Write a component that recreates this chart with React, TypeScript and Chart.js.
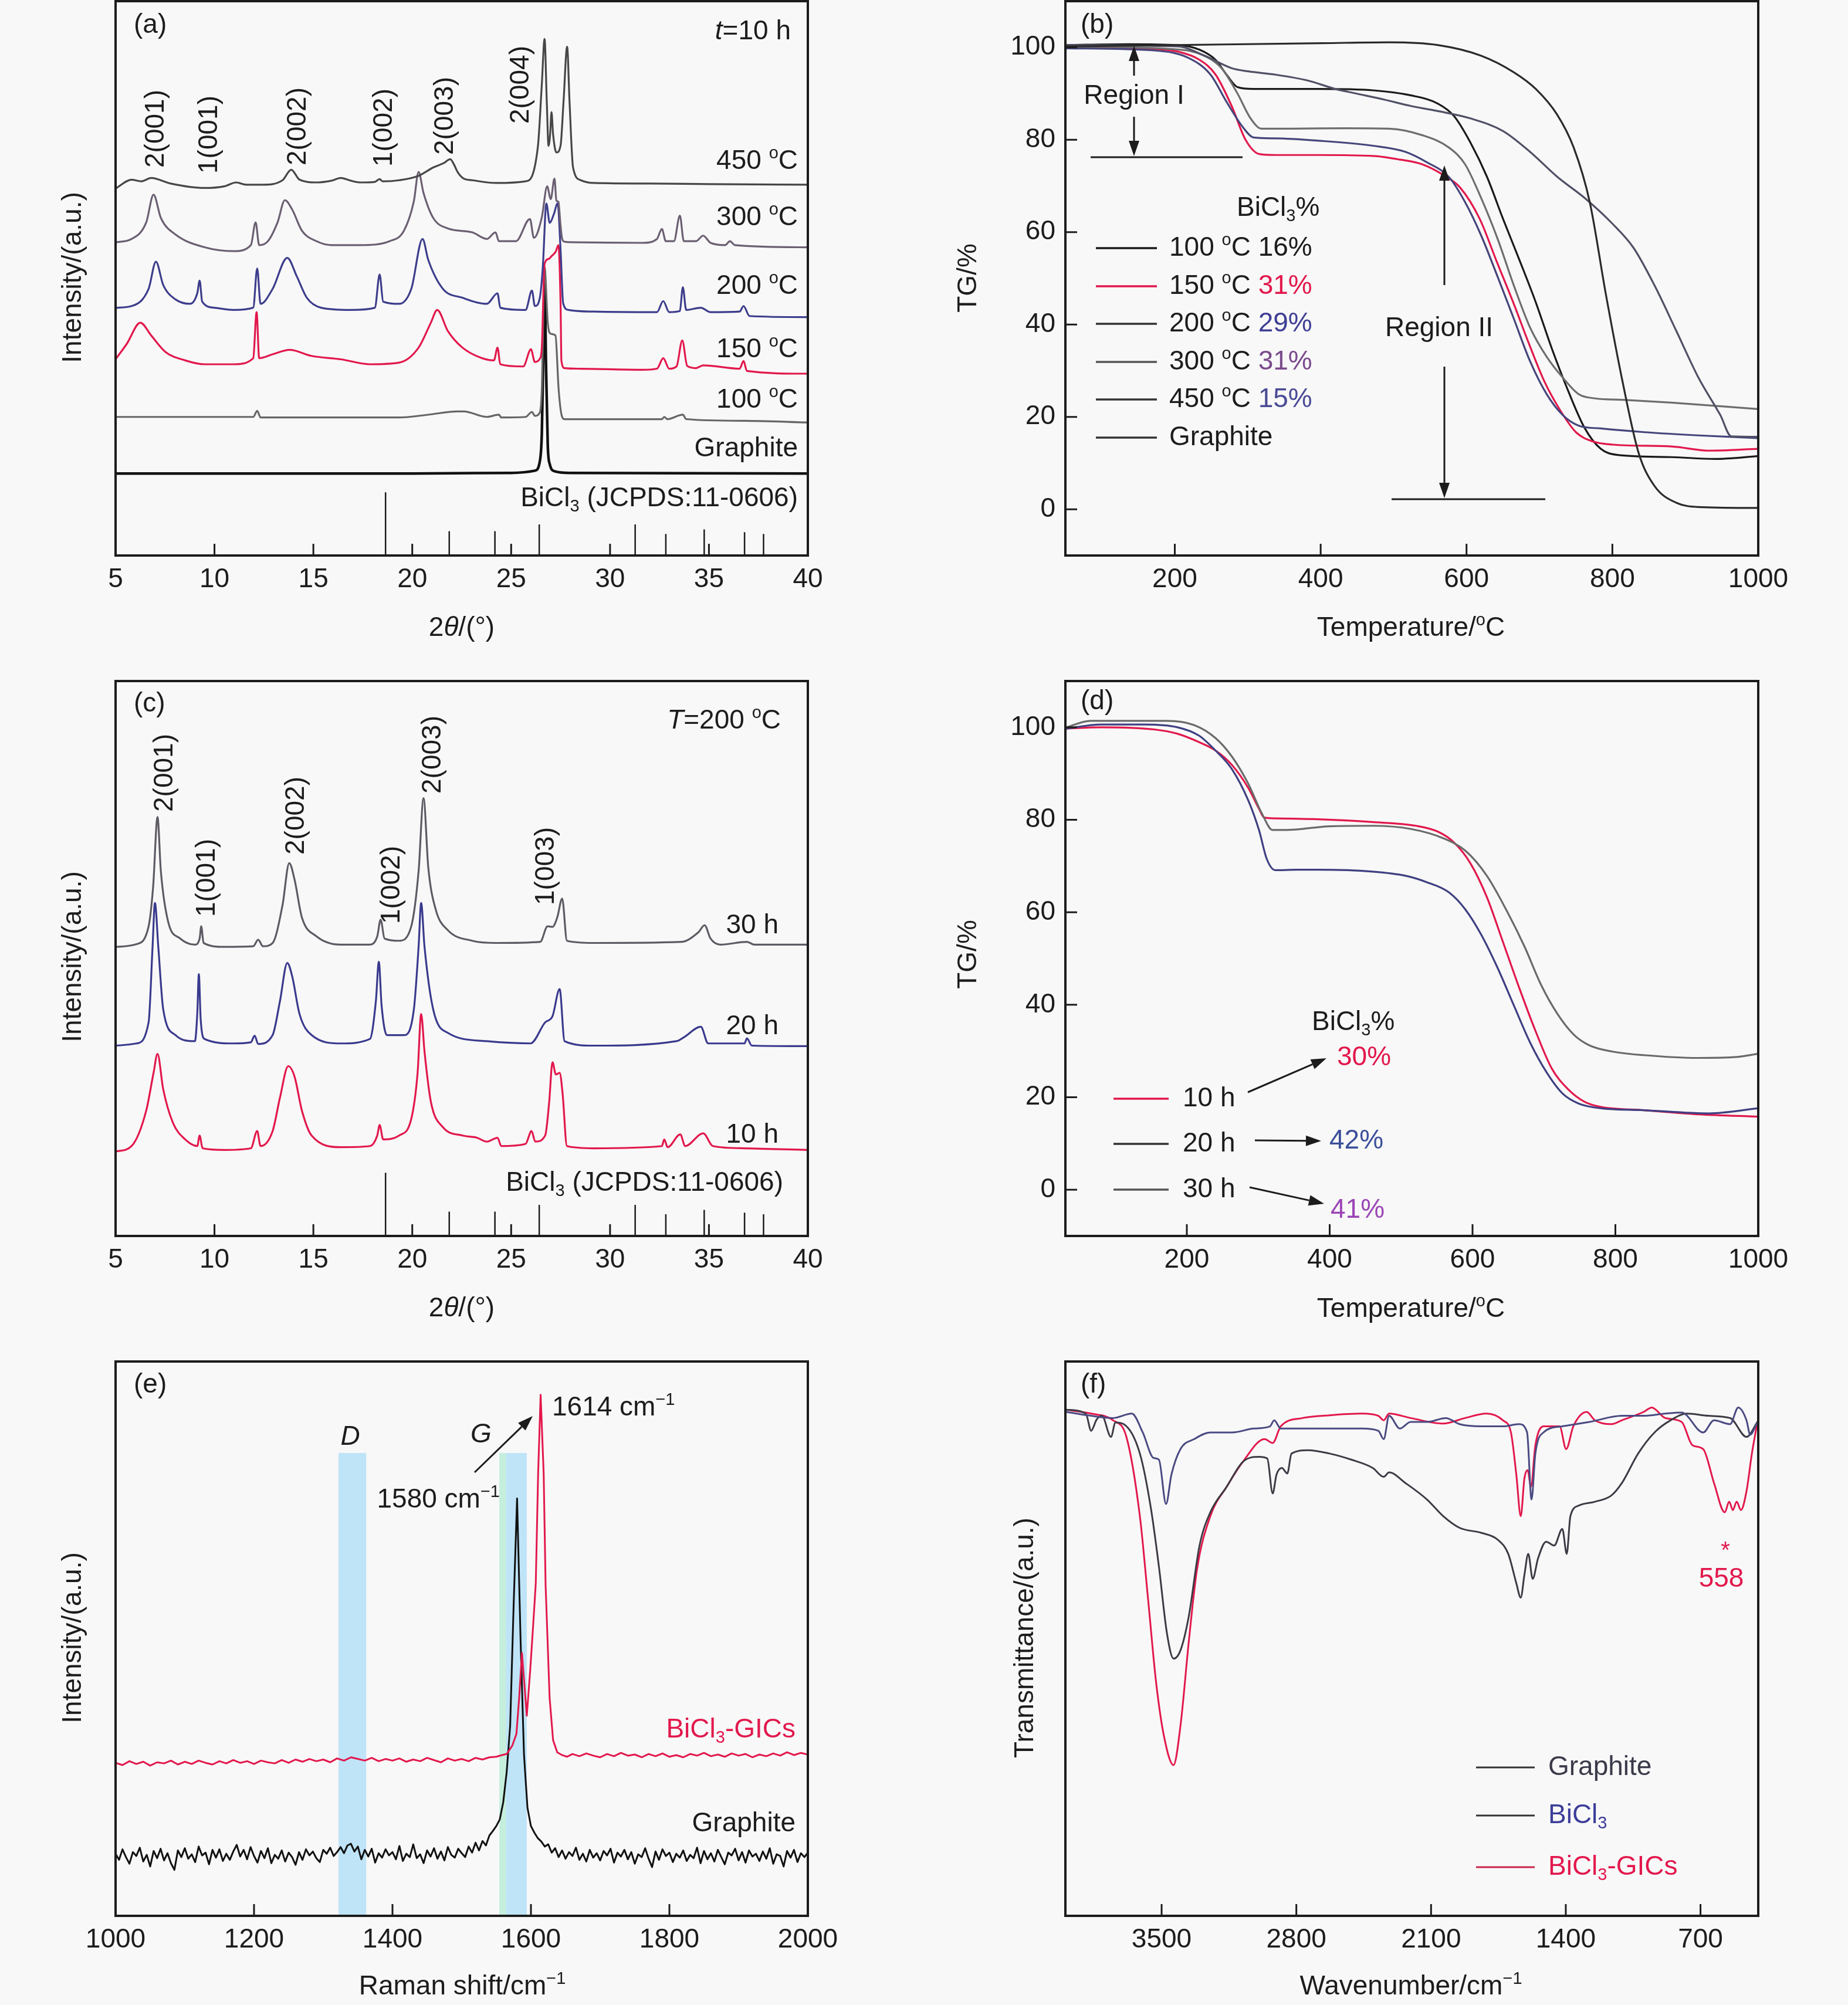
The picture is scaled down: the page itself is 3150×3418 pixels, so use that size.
import React, { useEffect, useRef } from 'react';
import { Chart, registerables } from 'chart.js';

Chart.register(...registerables);

const FONT = '"Liberation Sans", Arial, Helvetica, sans-serif';
const FS = 46;
const INK = '#1c1c1c';
const RED = '#e2184c';
const BG = '#f8f8f8';

// ---------------- (a) XRD, t = 10 h ----------------
const xrdTicks = [5, 10, 15, 20, 25, 30, 35, 40];
const xrdInner = [10, 15, 20, 25, 30, 35];
const xrd450 = [[5.00,66.2],[5.81,67.8],[6.30,67.5],[6.80,68.1],[7.78,67.1],[9.50,66.3],[10.50,66.6],[11.10,67.3],[11.60,66.9],[12.45,66.9],[13.44,67.7],[13.88,69.6],[14.30,67.8],[15.16,67.3],[15.90,67.6],[16.39,68.1],[16.90,67.6],[17.37,67.3],[18.10,67.4],[18.35,67.9],[18.50,67.5],[19.34,67.7],[20.32,68.5],[21.06,70.0],[21.60,70.8],[21.92,71.5],[22.10,70.6],[22.29,69.2],[22.60,68.0],[23.03,67.7],[24.26,67.2],[25.73,67.5],[26.35,73.7],[26.55,85.0],[26.69,93.2],[26.80,82.0],[26.89,73.9],[26.97,76.0],[27.04,80.0],[27.12,76.0],[27.29,72.7],[27.50,74.0],[27.65,82.0],[27.83,91.8],[27.95,82.0],[28.13,70.0],[28.52,67.7],[29.18,67.2],[32.00,67.1],[35.00,67.0],[40.00,66.9]];
const xrd300 = [[5.00,56.5],[5.81,57.1],[6.55,60.1],[6.92,65.1],[7.29,60.9],[8.03,57.9],[9.50,55.6],[10.98,54.9],[11.84,56.0],[12.08,60.1],[12.26,56.0],[12.70,56.7],[13.19,60.1],[13.56,64.1],[13.93,62.4],[14.42,58.6],[15.16,56.7],[15.90,56.0],[17.37,56.0],[18.85,56.7],[19.58,58.6],[20.08,63.9],[20.32,69.2],[20.57,65.4],[21.06,60.9],[21.80,59.0],[23.03,58.3],[23.77,57.1],[24.21,58.3],[24.38,56.7],[25.24,56.7],[25.95,60.7],[26.15,57.3],[26.55,61.0],[26.82,66.6],[27.00,64.3],[27.19,68.0],[27.29,64.0],[27.39,63.8],[27.49,59.8],[27.58,57.1],[27.70,56.6],[28.50,56.5],[31.64,56.4],[32.37,57.1],[32.62,58.9],[32.82,56.7],[33.23,56.7],[33.53,61.3],[33.73,56.7],[34.34,56.7],[34.71,57.7],[35.08,56.4],[35.82,56.0],[36.06,56.7],[36.31,56.0],[40.00,55.6]];
const xrd200 = [[5.00,44.7],[5.81,45.0],[6.67,48.1],[7.04,53.0],[7.41,48.8],[8.03,46.2],[8.76,45.4],[9.13,47.3],[9.25,49.6],[9.38,45.8],[9.99,44.7],[10.98,44.3],[11.96,44.7],[12.16,51.8],[12.33,45.4],[12.94,48.1],[13.68,53.7],[14.17,50.3],[14.67,46.5],[15.40,44.7],[16.88,44.3],[18.11,44.7],[18.35,50.7],[18.53,45.8],[19.34,45.4],[19.95,48.1],[20.52,57.1],[20.81,53.3],[21.55,48.1],[22.54,46.5],[23.77,45.4],[24.31,47.3],[24.45,44.7],[25.73,44.3],[26.05,47.8],[26.20,45.0],[26.45,46.5],[26.60,52.0],[26.78,63.5],[26.95,60.0],[27.15,61.5],[27.35,63.5],[27.50,55.0],[27.63,45.5],[27.90,44.3],[29.18,44.0],[32.37,43.9],[32.69,45.9],[32.99,43.9],[33.53,44.1],[33.68,48.4],[33.85,44.3],[34.59,44.7],[35.08,43.9],[36.55,44.0],[36.75,45.0],[37.05,43.2],[40.00,43.0]];
const xrd150 = [[5.00,35.4],[5.57,38.2],[6.25,42.0],[6.80,39.7],[7.53,36.7],[8.52,35.2],[9.50,34.5],[10.98,34.5],[11.96,35.6],[12.13,43.9],[12.26,35.6],[12.94,36.3],[13.80,37.1],[14.91,36.0],[16.39,35.4],[17.86,34.5],[19.34,34.8],[20.32,37.5],[20.94,42.0],[21.26,44.3],[21.80,40.5],[22.54,37.5],[23.52,35.6],[24.13,35.2],[24.31,37.5],[24.45,34.5],[25.61,34.1],[26.00,37.2],[26.20,34.9],[26.45,35.5],[26.55,37.5],[26.69,52.6],[26.90,53.5],[27.04,54.0],[27.25,54.8],[27.39,56.0],[27.50,45.0],[27.54,35.2],[27.70,33.8],[28.50,33.7],[31.64,33.5],[32.37,33.7],[32.69,35.6],[32.99,33.7],[33.36,34.1],[33.65,38.8],[33.90,34.2],[34.34,33.8],[34.71,34.3],[36.55,33.7],[36.75,35.1],[36.92,33.3],[40.00,32.8]];
const xrd100 = [[5.00,25.0],[11.96,25.0],[12.16,26.1],[12.33,24.9],[19.34,24.9],[20.81,25.4],[22.29,26.0],[22.60,26.0],[23.77,25.0],[24.38,25.4],[24.50,24.9],[25.73,25.0],[26.05,25.9],[26.20,25.2],[26.45,25.8],[26.55,30.0],[26.69,52.0],[26.85,42.0],[27.00,40.0],[27.24,39.7],[27.40,30.0],[27.54,25.5],[27.70,24.6],[32.62,24.6],[32.74,25.0],[32.90,24.6],[33.68,25.4],[33.85,24.6],[36.80,24.3],[40.00,24.0]];
const xrdGraphite = [[5.00,14.8],[20.00,14.8],[25.00,14.9],[26.20,15.3],[26.45,17.0],[26.55,22.0],[26.62,35.0],[26.69,50.0],[26.76,35.0],[26.85,20.0],[26.95,16.5],[27.20,15.2],[28.00,14.9],[40.00,14.8]];
const stickPos = [18.65, 21.87, 24.18, 26.42, 31.27, 32.82, 34.76, 36.80, 37.76];
const stickHeight = [11.4, 4.4, 4.4, 5.6, 5.6, 3.9, 4.7, 4.2, 3.9];

// ---------------- (c) XRD, T = 200 C ----------------
const xrd30h = [[5.00,52.1],[6.06,52.6],[6.67,55.8],[6.90,63.0],[7.12,75.5],[7.29,65.7],[7.66,56.6],[8.27,53.6],[9.01,52.5],[9.25,53.6],[9.33,55.8],[9.45,52.8],[10.48,52.1],[11.96,52.2],[12.21,53.4],[12.45,52.2],[12.94,52.8],[13.44,59.6],[13.78,67.2],[14.05,64.2],[14.42,57.4],[15.16,54.0],[16.39,52.5],[17.86,52.5],[18.23,54.0],[18.40,57.0],[18.60,53.6],[19.34,53.2],[19.95,55.8],[20.32,65.7],[20.57,78.9],[20.81,66.4],[21.18,58.9],[21.80,55.1],[23.03,53.2],[24.26,52.8],[26.47,53.0],[26.84,55.8],[27.09,55.7],[27.33,57.4],[27.58,60.8],[27.82,53.2],[29.18,52.8],[33.60,53.0],[34.46,54.7],[34.78,56.0],[35.08,53.6],[35.57,52.5],[36.92,53.0],[37.30,52.5],[40.00,52.5]];
const xrd20h = [[5.00,34.3],[6.06,34.7],[6.67,38.5],[6.87,52.1],[6.99,60.0],[7.16,52.1],[7.41,40.8],[8.03,36.2],[9.01,35.1],[9.13,40.0],[9.21,47.2],[9.30,39.2],[9.50,35.5],[10.98,34.7],[11.84,34.9],[12.03,36.1],[12.21,34.6],[12.94,36.2],[13.31,42.3],[13.68,49.2],[13.93,46.8],[14.30,40.0],[14.91,36.2],[16.39,34.7],[17.86,35.5],[18.16,42.3],[18.31,49.4],[18.45,41.5],[18.72,36.2],[19.58,36.2],[20.08,40.8],[20.32,52.1],[20.45,60.0],[20.62,52.1],[21.06,40.8],[21.80,36.6],[23.77,35.1],[25.98,34.7],[26.72,38.5],[27.09,39.6],[27.45,44.5],[27.70,35.1],[29.18,34.3],[33.36,35.1],[33.73,35.8],[34.59,37.7],[34.96,34.7],[36.80,34.7],[36.92,35.6],[37.17,34.3],[40.00,34.2]];
const xrd10h = [[5.00,15.2],[5.81,16.2],[6.55,22.6],[6.92,29.4],[7.12,32.8],[7.41,26.4],[7.90,20.4],[8.52,17.4],[9.13,16.2],[9.25,18.1],[9.40,15.8],[10.48,15.5],[11.84,15.8],[12.16,18.9],[12.33,16.2],[12.94,18.9],[13.31,24.9],[13.73,30.6],[14.05,28.7],[14.42,22.6],[14.91,18.1],[16.39,16.0],[17.86,16.2],[18.23,18.1],[18.35,20.0],[18.53,17.4],[19.34,18.1],[19.95,21.1],[20.27,29.4],[20.45,40.0],[20.62,33.2],[20.94,24.2],[21.55,19.6],[22.54,18.1],[23.27,17.7],[23.77,17.0],[24.31,17.7],[24.50,16.2],[25.73,16.6],[26.03,18.9],[26.22,17.0],[26.72,18.1],[26.92,24.0],[27.09,31.3],[27.26,29.1],[27.45,29.4],[27.60,25.7],[27.82,16.2],[29.18,15.8],[32.62,16.2],[32.74,17.4],[32.91,16.0],[33.55,18.3],[33.80,16.2],[34.71,18.5],[35.20,16.2],[36.80,15.8],[40.00,15.5]];

// ---------------- (b) TG vs temperature ----------------
const tgTicks = [200, 400, 600, 800, 1000];
const tgYTicks = [0, 20, 40, 60, 80, 100];
const tgGraphite = [[50,100.2],[200,100.5],[401,100.9],[494,101.1],[561,100.5],[620,98.2],[665,94.6],[695,91.0],[724,85.5],[747,78.3],[769,66.5],[791,46.6],[814,27.6],[836,12.2],[858,5.0],[888,1.4],[918,0.5],[1000,0.3]];
const tg100 = [[50,100.5],[137,100.7],[204,100.5],[234,99.5],[256,97.3],[271,94.1],[286,91.4],[308,91.0],[397,91.0],[472,90.7],[524,89.6],[561,87.8],[583,85.1],[606,79.2],[628,72.0],[650,62.9],[673,53.8],[695,44.8],[717,34.8],[739,25.8],[762,17.6],[784,13.1],[806,11.8],[881,11.3],[940,10.9],[1000,11.5]];
const tg150 = [[50,100.0],[159,99.7],[204,99.1],[234,97.3],[256,94.1],[278,87.3],[297,80.0],[316,76.9],[338,76.7],[397,76.7],[472,76.5],[509,75.7],[539,74.7],[568,72.4],[591,69.7],[618,62.9],[641,53.8],[664,44.8],[686,35.7],[707,27.6],[729,21.3],[750,16.7],[771,14.8],[800,14.0],[881,13.6],[933,12.7],[1000,13.1]];
const tg200 = [[50,99.8],[174,99.3],[219,97.7],[249,94.1],[271,88.2],[293,82.8],[308,80.5],[338,80.3],[397,79.8],[472,78.7],[516,77.4],[546,75.1],[576,71.9],[598,66.5],[620,59.3],[643,50.2],[665,41.2],[687,32.1],[710,24.9],[732,20.4],[754,18.1],[784,17.5],[844,16.7],[918,16.0],[1000,15.4]];
const tg300 = [[50,100.2],[189,99.7],[234,98.6],[264,95.5],[286,90.0],[304,84.6],[319,82.4],[360,82.4],[435,82.5],[494,82.4],[539,81.0],[576,78.3],[598,74.7],[620,67.4],[643,58.4],[665,48.4],[687,39.4],[710,33.0],[732,28.5],[754,24.9],[777,24.0],[814,23.7],[881,23.1],[1000,21.7]];
const tg450 = [[50,100.5],[204,100.2],[241,98.2],[278,95.5],[301,94.8],[338,94.1],[383,92.8],[420,91.0],[449,90.0],[487,88.7],[524,87.3],[561,86.2],[606,84.6],[650,81.9],[687,77.4],[725,71.9],[762,67.4],[799,62.0],[829,56.6],[858,48.4],[888,38.5],[918,28.5],[948,20.4],[963,15.8],[1000,15.7]];

// ---------------- (d) TG vs time ----------------
const tg10h = [[30,99.7],[80,100.0],[156,99.5],[187,98.6],[217,96.8],[240,95.0],[263,91.9],[286,86.9],[301,82.4],[308,80.5],[324,80.3],[384,80.1],[460,79.5],[521,78.7],[552,77.4],[574,75.1],[597,70.6],[620,63.3],[643,53.4],[666,43.4],[688,34.4],[711,26.2],[734,21.7],[757,19.0],[780,17.9],[840,17.2],[916,16.3],[1000,15.8]];
const tg20h = [[30,99.7],[80,100.6],[141,100.6],[187,100.0],[217,98.2],[240,95.0],[263,91.0],[286,84.2],[301,77.8],[312,71.5],[324,69.1],[354,69.2],[384,69.2],[460,68.8],[506,67.9],[536,66.5],[567,64.3],[590,60.6],[612,55.2],[635,48.0],[658,39.8],[681,31.7],[704,25.3],[726,20.8],[749,18.6],[780,17.6],[840,17.2],[931,16.5],[1000,17.6]];
const tg30h = [[30,99.9],[65,101.4],[172,101.4],[210,100.5],[240,97.7],[263,93.7],[286,87.8],[305,81.4],[320,77.8],[339,77.8],[400,78.6],[460,78.7],[514,78.0],[559,76.0],[590,73.3],[620,67.9],[650,59.7],[673,52.5],[696,44.3],[719,38.0],[742,33.5],[764,31.2],[795,29.9],[840,29.1],[916,28.5],[970,28.7],[1000,29.4]];

// ---------------- (e) Raman ----------------
const ramanTicks = [1000, 1200, 1400, 1600, 1800, 2000];
const ramanInner = [1200, 1400, 1600, 1800];
const ramanStart = 1000;
const ramanStep = 5;
const ramanGraphite = [
  11.2,10.1,12.0,10.6,9.4,11.5,10.8,12.3,9.8,11.0,
  8.9,11.7,10.4,12.1,10.0,11.3,9.5,8.3,11.8,10.6,
  12.2,10.3,11.1,9.7,12.5,10.9,11.4,9.3,11.9,10.5,
  12.0,9.9,11.2,10.1,11.6,12.8,10.7,11.9,10.2,12.4,
  10.8,9.6,11.7,10.4,12.2,9.5,11.0,10.3,11.8,9.8,
  11.4,10.6,9.2,11.5,10.1,12.0,10.9,11.6,10.4,9.7,
  11.9,11.2,12.3,10.8,11.5,12.4,11.3,12.7,13.0,11.6,
  12.5,10.2,11.9,10.7,12.1,9.6,11.3,10.5,12.0,10.9,
  11.5,10.2,12.6,9.9,11.2,10.6,12.9,10.4,11.1,9.5,
  11.8,10.7,12.2,10.3,11.6,10.0,12.4,11.0,10.5,12.1,
  11.3,10.6,12.5,11.4,13.2,11.8,13.5,12.7,14.5,15.3,
  16.2,17.4,20.5,26.0,34.3,56.0,75.3,50.0,29.0,19.5,
  16.2,15.0,14.0,13.4,12.5,12.9,11.4,12.2,10.6,11.8,
  10.3,11.5,10.8,12.3,10.1,11.2,9.8,11.9,10.5,11.3,
  10.0,11.7,10.9,12.1,9.6,11.4,10.7,11.9,10.2,11.5,
  9.4,11.1,10.6,12.2,10.3,8.8,11.6,10.1,12.0,10.8,
  11.4,9.7,11.2,10.5,11.8,9.9,11.0,10.4,12.3,9.5,
  11.7,10.2,11.3,9.8,11.9,10.6,9.3,11.4,10.9,12.1,
  10.0,11.5,9.6,11.8,10.7,11.2,9.9,11.6,10.3,12.2,
  9.4,11.1,10.8,8.9,11.7,10.5,11.9,9.7,11.3,10.6,
  11.4,
];
const ramanGICs = [[1000,27.6],[1010,27.2],[1020,27.9],[1030,27.4],[1040,27.8],[1050,27.1],[1060,27.7],[1070,27.5],[1080,28.0],[1090,27.3],[1100,27.8],[1110,27.4],[1120,28.0],[1130,27.6],[1140,27.3],[1150,27.9],[1160,27.5],[1170,28.1],[1180,27.6],[1190,27.9],[1200,27.4],[1210,28.0],[1220,27.7],[1230,27.5],[1240,28.1],[1250,27.6],[1260,28.2],[1270,27.8],[1280,28.3],[1290,27.9],[1300,28.2],[1310,27.7],[1320,28.4],[1330,28.0],[1340,28.6],[1350,28.3],[1360,28.0],[1370,28.5],[1380,27.9],[1390,28.3],[1400,28.0],[1410,28.4],[1420,27.8],[1430,28.2],[1440,27.9],[1450,28.5],[1460,28.1],[1470,27.7],[1480,28.4],[1490,28.0],[1500,28.3],[1510,27.9],[1520,28.5],[1530,28.2],[1540,28.6],[1550,28.7],[1558,29.0],[1565,29.2],[1573,30.7],[1579,32.8],[1583,39.3],[1587,47.4],[1591,41.0],[1594,36.1],[1599,44.4],[1603,52.0],[1607,60.0],[1610.4,79.8],[1614,94.0],[1618.4,79.8],[1621.2,59.6],[1627,39.3],[1632,31.7],[1638,29.5],[1645,29.0],[1652,28.7],[1660,29.2],[1670,28.8],[1680,29.3],[1690,28.9],[1700,28.6],[1710,29.2],[1720,28.8],[1730,29.4],[1740,28.9],[1750,29.1],[1760,28.6],[1770,29.2],[1780,28.8],[1790,29.3],[1800,28.7],[1810,29.0],[1820,28.6],[1830,29.2],[1840,28.9],[1850,29.4],[1860,28.8],[1870,29.1],[1880,28.7],[1890,29.3],[1900,28.9],[1910,29.2],[1920,28.6],[1930,29.1],[1940,28.8],[1950,29.3],[1960,28.9],[1970,29.5],[1980,29.0],[1990,29.4],[2000,29.1]];
const dBand = [1322, 1362];
const gBand = [1554.5, 1594];
const gBandGreen = [1554.5, 1564];
const bandTop = 83.5;

// ---------------- (f) FTIR ----------------
const ftirTicks = [3500, 2800, 2100, 1400, 700];
const ftirGraphite = [[3995,91.3],[3894,90.6],[3866,87.5],[3838,89.5],[3810,90.2],[3763,86.4],[3740,89.0],[3697,88.7],[3613,83.4],[3556,73.6],[3514,63.0],[3472,50.9],[3438,46.4],[3402,47.9],[3359,54.0],[3303,66.8],[3247,72.8],[3162,77.4],[3078,81.9],[2993,82.8],[2951,82.5],[2923,76.2],[2903,79.6],[2875,80.8],[2847,79.8],[2825,83.4],[2740,84.0],[2628,83.4],[2515,82.3],[2403,80.8],[2346,79.2],[2318,80.0],[2234,78.1],[2121,75.1],[2037,72.1],[1952,70.0],[1840,69.1],[1755,67.9],[1699,65.3],[1657,60.0],[1634,57.4],[1615,61.5],[1595,65.3],[1572,60.8],[1544,64.5],[1502,67.5],[1460,66.8],[1418,69.8],[1395,65.3],[1376,72.1],[1333,74.0],[1249,74.7],[1164,75.8],[1108,78.1],[1024,83.4],[939,87.2],[855,89.4],[770,90.6],[658,90.2],[546,89.8],[461,86.4],[404,89.1]];
const ftirBiCl3 = [[3995,90.9],[3866,90.2],[3753,89.8],[3655,90.6],[3598,87.2],[3542,82.6],[3514,82.3],[3477,74.3],[3449,79.6],[3402,84.2],[3331,86.0],[3247,87.2],[3134,87.2],[3022,87.9],[2937,88.3],[2915,89.4],[2881,87.9],[2684,87.9],[2459,87.9],[2374,87.5],[2346,86.0],[2318,90.2],[2262,87.9],[2206,89.1],[2121,89.1],[2023,89.8],[1952,88.7],[1840,88.3],[1727,88.3],[1643,88.7],[1601,87.2],[1578,75.1],[1558,83.4],[1516,87.2],[1418,88.3],[1277,89.1],[1108,90.2],[996,90.2],[883,90.6],[798,90.8],[686,87.2],[630,89.4],[546,88.7],[504,91.7],[461,89.4],[442,86.8],[404,89.1]];
const ftirGICs = [[3995,91.3],[3866,90.6],[3753,89.4],[3683,86.4],[3613,72.1],[3570,57.0],[3528,41.9],[3486,32.1],[3438,27.2],[3402,34.3],[3359,49.4],[3317,62.3],[3247,72.1],[3162,77.4],[3078,81.9],[2965,86.0],[2923,85.3],[2881,88.3],[2768,89.8],[2628,90.3],[2459,90.6],[2374,90.2],[2346,89.4],[2318,90.6],[2206,89.8],[2037,88.8],[1924,89.8],[1812,90.6],[1727,89.4],[1685,87.2],[1657,79.6],[1634,72.1],[1615,78.9],[1598,80.4],[1581,77.4],[1558,84.9],[1516,88.3],[1432,88.3],[1398,84.2],[1361,88.3],[1291,90.9],[1249,89.4],[1164,88.7],[1108,89.4],[996,90.9],[953,91.7],[883,89.8],[798,89.1],[742,84.9],[686,84.2],[630,78.1],[574,72.8],[551,74.7],[532,73.2],[512,74.7],[490,73.2],[461,76.6],[433,83.4],[404,89.1]];

// ---------------- layout ----------------
const ML = 260, MT = 60, MR = 120, MB = 200, YW = 200, XH = 100;

type Align = 'left' | 'center' | 'right';
type Part = { t: string; s?: 'sub' | 'sup'; i?: boolean; c?: string };
type Rich = string | Part[];

const toParts = (r: Rich): Part[] => (typeof r === 'string' ? [{ t: r }] : r);
const partFont = (p: Part, size: number) =>
  `${p.i ? 'italic ' : ''}${p.s ? Math.round(size * 0.64) : size}px ${FONT}`;

function drawRich(ctx: CanvasRenderingContext2D, r: Rich, x: number, y: number, align: Align, color: string, size: number) {
  const parts = toParts(r);
  let w = 0;
  const ws = parts.map((p) => {
    ctx.font = partFont(p, size);
    const m = ctx.measureText(p.t).width;
    w += m;
    return m;
  });
  let cx = align === 'left' ? x : align === 'right' ? x - w : x - w / 2;
  ctx.textAlign = 'left';
  ctx.textBaseline = 'middle';
  parts.forEach((p, k) => {
    ctx.font = partFont(p, size);
    ctx.fillStyle = p.c || color;
    const dy = p.s === 'sub' ? size * 0.3 : p.s === 'sup' ? -size * 0.28 : 0;
    ctx.fillText(p.t, cx, y + dy);
    cx += ws[k];
  });
}

function makeKit(ctx: CanvasRenderingContext2D, ox: number, oy: number) {
  return {
    text(x: number, y: number, r: Rich, al: Align = 'left', c: string = INK, size: number = FS) {
      drawRich(ctx, r, x - ox, y - oy, al, c, size);
    },
    rtext(x: number, y: number, r: Rich, al: Align = 'left', c: string = INK, size: number = FS) {
      ctx.save();
      ctx.translate(x - ox, y - oy);
      ctx.rotate(-Math.PI / 2);
      drawRich(ctx, r, 0, 0, al, c, size);
      ctx.restore();
    },
    line(x1: number, y1: number, x2: number, y2: number, c: string = INK, lw: number = 3) {
      ctx.strokeStyle = c;
      ctx.lineWidth = lw;
      ctx.beginPath();
      ctx.moveTo(x1 - ox, y1 - oy);
      ctx.lineTo(x2 - ox, y2 - oy);
      ctx.stroke();
    },
    arrow(x1: number, y1: number, x2: number, y2: number, c: string = INK, lw: number = 3, hl: number = 26, hw: number = 9) {
      const a = Math.atan2(y2 - y1, x2 - x1);
      const X2 = x2 - ox, Y2 = y2 - oy;
      const bx = X2 - hl * Math.cos(a), by = Y2 - hl * Math.sin(a);
      ctx.strokeStyle = c;
      ctx.fillStyle = c;
      ctx.lineWidth = lw;
      ctx.beginPath();
      ctx.moveTo(x1 - ox, y1 - oy);
      ctx.lineTo(bx, by);
      ctx.stroke();
      ctx.beginPath();
      ctx.moveTo(X2, Y2);
      ctx.lineTo(bx - hw * Math.sin(a), by + hw * Math.cos(a));
      ctx.lineTo(bx + hw * Math.sin(a), by - hw * Math.cos(a));
      ctx.closePath();
      ctx.fill();
    },
  };
}
type Kit = ReturnType<typeof makeKit>;

const series = (pts: number[][], color: string, width = 3.2, smooth = true) => ({
  data: pts.map(([x, y]) => ({ x, y })),
  borderColor: color,
  backgroundColor: color,
  borderWidth: width,
  pointRadius: 0,
  fill: false,
  tension: 0,
  cubicInterpolationMode: smooth ? 'monotone' : 'default',
  borderJoinStyle: 'round',
  borderCapStyle: 'round',
});

const stickSeries = () => {
  const pts: { x: number; y: number | null }[] = [];
  stickPos.forEach((p, i) => {
    pts.push({ x: p, y: 0 }, { x: p, y: stickHeight[i] }, { x: p, y: null });
  });
  return { data: pts, borderColor: INK, borderWidth: 2.5, pointRadius: 0, fill: false, spanGaps: false };
};

const ramanGraphiteSeries = () =>
  ramanGraphite.map((v, i) => [ramanStart + i * ramanStep, v]);

const degC = (n: string): Part[] => [{ t: n + ' ' }, { t: 'o', s: 'sup' }, { t: 'C' }];
const bicl = (rest: string, c?: string): Part[] => [
  { t: 'BiCl', c },
  { t: '3', s: 'sub', c },
  { t: rest, c },
];

interface Spec {
  key: string;
  L: number; T: number; R: number; B: number;
  datasets: () => any[];
  xMin: number; xMax: number; xTicks: number[]; xInner: number[]; reverse?: boolean;
  yMin: number; yMax: number; yTicks?: number[];
  under?: (k: Kit, chart: any, ctx: CanvasRenderingContext2D) => void;
  over: (k: Kit, chart: any) => void;
}

function buildConfig(s: Spec, ox: number, oy: number) {
  const tickFont = { family: FONT, size: FS };
  const x: any = {
    type: 'linear',
    min: s.xMin,
    max: s.xMax,
    reverse: !!s.reverse,
    grid: { display: false, drawTicks: false },
    border: { display: false },
    ticks: { font: tickFont, color: INK, padding: 14, maxRotation: 0, autoSkip: false, callback: (v: any) => String(v) },
    afterBuildTicks: (sc: any) => {
      sc.ticks = s.xTicks.map((v) => ({ value: v }));
    },
    afterFit: (sc: any) => {
      sc.height = XH;
      sc.paddingLeft = 0;
      sc.paddingRight = 0;
    },
  };
  const y: any = s.yTicks
    ? {
        type: 'linear',
        min: s.yMin,
        max: s.yMax,
        grid: { display: false, drawTicks: false },
        border: { display: false },
        ticks: { font: tickFont, color: INK, padding: 17, autoSkip: false, callback: (v: any) => String(v) },
        afterBuildTicks: (sc: any) => {
          sc.ticks = (s.yTicks as number[]).map((v) => ({ value: v }));
        },
        afterFit: (sc: any) => {
          sc.width = YW;
          sc.paddingTop = 0;
          sc.paddingBottom = 0;
        },
      }
    : { type: 'linear', min: s.yMin, max: s.yMax, display: false };

  return {
    type: 'line',
    data: { datasets: s.datasets() },
    options: {
      responsive: false,
      animation: false,
      devicePixelRatio: 1,
      events: [],
      layout: { padding: { left: s.yTicks ? ML - YW : ML, top: MT, right: MR, bottom: MB - XH } },
      plugins: { legend: { display: false }, tooltip: { enabled: false }, title: { display: false } },
      elements: { point: { radius: 0 } },
      scales: { x, y },
    },
    plugins: [
      {
        id: 'decor-' + s.key,
        beforeDatasetsDraw(chart: any) {
          if (!s.under) return;
          const ctx = chart.ctx;
          ctx.save();
          s.under(makeKit(ctx, ox, oy), chart, ctx);
          ctx.restore();
        },
        afterDatasetsDraw(chart: any) {
          const ctx: CanvasRenderingContext2D = chart.ctx;
          const a = chart.chartArea;
          ctx.save();
          ctx.strokeStyle = INK;
          ctx.lineWidth = 3;
          ctx.lineCap = 'butt';
          s.xInner.forEach((v) => {
            const px = chart.scales.x.getPixelForValue(v);
            ctx.beginPath();
            ctx.moveTo(px, a.bottom);
            ctx.lineTo(px, a.bottom - 20);
            ctx.stroke();
          });
          (s.yTicks || []).forEach((v) => {
            const py = chart.scales.y.getPixelForValue(v);
            ctx.beginPath();
            ctx.moveTo(a.left, py);
            ctx.lineTo(a.left + 20, py);
            ctx.stroke();
          });
          ctx.lineWidth = 4;
          ctx.strokeRect(a.left, a.top, a.right - a.left, a.bottom - a.top);
          s.over(makeKit(ctx, ox, oy), chart);
          ctx.restore();
        },
      },
    ],
  };
}

const SPECS: Spec[] = [
  {
    key: 'a', L: 197, T: 2, R: 1377, B: 947,
    xMin: 5, xMax: 40, xTicks: xrdTicks, xInner: xrdInner, yMin: 0, yMax: 100,
    datasets: () => [
      series(xrd450, '#474747'),
      series(xrd300, '#6b5f72'),
      series(xrd200, '#3d3d8c'),
      series(xrd150, RED),
      series(xrd100, '#666666'),
      series(xrdGraphite, '#111111', 4.5),
      stickSeries(),
    ],
    over: (k) => {
      k.text(228, 43, '(a)');
      k.text(1348, 54, [{ t: 't', i: true }, { t: '=10 h' }], 'right');
      const rot: [number, number, string][] = [
        [266, 286, '2(001)'], [357, 296, '1(001)'], [508, 282, '2(002)'],
        [655, 284, '1(002)'], [759, 264, '2(003)'], [888, 211, '2(004)'],
      ];
      rot.forEach(([x, y, s]) => k.rtext(x, y, s, 'left'));
      k.text(1360, 275, degC('450'), 'right');
      k.text(1360, 371, degC('300'), 'right');
      k.text(1360, 488, degC('200'), 'right');
      k.text(1360, 596, degC('150'), 'right');
      k.text(1360, 682, degC('100'), 'right');
      k.text(1360, 765, 'Graphite', 'right');
      k.text(1360, 850, bicl(' (JCPDS:11-0606)'), 'right');
      k.text(787, 1071, [{ t: '2' }, { t: 'θ', i: true }, { t: '/(°)' }], 'center');
      k.rtext(125, 473, 'Intensity/(a.u.)', 'center');
    },
  },
  {
    key: 'b', L: 1816, T: 2, R: 2997, B: 947,
    xMin: 50, xMax: 1000, xTicks: tgTicks, xInner: [200, 400, 600, 800], yMin: -10, yMax: 110, yTicks: tgYTicks,
    datasets: () => [
      series(tgGraphite, '#2b2b2b', 3.2),
      series(tg450, '#505066', 3.2),
      series(tg300, '#6e6e6e', 3.2),
      series(tg200, '#45457c', 3.2),
      series(tg150, RED, 3.2),
      series(tg100, '#1a1a1a', 3.2),
    ],
    over: (k) => {
      k.text(1842, 43, '(b)');
      k.rtext(1651, 474, 'TG/%', 'center');
      k.text(2405, 1071, [{ t: 'Temperature/' }, { t: 'o', s: 'sup' }, { t: 'C' }], 'center');
      k.arrow(1933, 129, 1933, 78);
      k.text(1933, 164, 'Region I', 'center');
      k.arrow(1933, 199, 1933, 266);
      k.line(1859, 268, 2118, 268);
      k.arrow(2462, 486, 2462, 282);
      k.text(2453, 560, 'Region II', 'center');
      k.arrow(2462, 625, 2462, 849);
      k.line(2372, 851, 2634, 851);
      k.text(2108, 355, bicl('%'));
      const rows = [423, 488, 552, 617, 681, 746];
      const cols = ['#1a1a1a', RED, '#333333', '#555555', '#333333', '#333333'];
      const labels: Rich[] = [
        [...degC('100'), { t: ' 16%' }],
        [...degC('150'), { t: ' ' }, { t: '31%', c: RED }],
        [...degC('200'), { t: ' ' }, { t: '29%', c: '#3f3f95' }],
        [...degC('300'), { t: ' ' }, { t: '31%', c: '#7a4a8c' }],
        [...degC('450'), { t: ' ' }, { t: '15%', c: '#4a4a96' }],
        'Graphite',
      ];
      rows.forEach((y, i) => {
        k.line(1868, y, 1972, y, cols[i], 3.5);
        k.text(1993, y, labels[i]);
      });
    },
  },
  {
    key: 'c', L: 197, T: 1161, R: 1377, B: 2107,
    xMin: 5, xMax: 40, xTicks: xrdTicks, xInner: xrdInner, yMin: 0, yMax: 100,
    datasets: () => [
      series(xrd30h, '#5e5a64'),
      series(xrd20h, '#3a3a8e'),
      series(xrd10h, RED),
      stickSeries(),
    ],
    over: (k) => {
      k.text(228, 1200, '(c)');
      k.text(1331, 1229, [{ t: 'T', i: true }, { t: '=200 ' }, { t: 'o', s: 'sup' }, { t: 'C' }], 'right');
      const rot: [number, number, string][] = [
        [281, 1384, '2(001)'], [353, 1563, '1(001)'], [505, 1457, '2(002)'],
        [668, 1575, '1(002)'], [738, 1353, '2(003)'], [931, 1543, '1(003)'],
      ];
      rot.forEach(([x, y, s]) => k.rtext(x, y, s, 'left'));
      k.text(1327, 1578, '30 h', 'right');
      k.text(1327, 1750, '20 h', 'right');
      k.text(1327, 1935, '10 h', 'right');
      k.text(1335, 2017, bicl(' (JCPDS:11-0606)'), 'right');
      k.text(787, 2231, [{ t: '2' }, { t: 'θ', i: true }, { t: '/(°)' }], 'center');
      k.rtext(125, 1631, 'Intensity/(a.u.)', 'center');
    },
  },
  {
    key: 'd', L: 1816, T: 1161, R: 2997, B: 2107,
    xMin: 30, xMax: 1000, xTicks: tgTicks, xInner: [200, 400, 600, 800], yMin: -10, yMax: 110, yTicks: tgYTicks,
    datasets: () => [
      series(tg30h, '#6a6a6a', 3.2),
      series(tg20h, '#3f3f82', 3.2),
      series(tg10h, RED, 3.2),
    ],
    over: (k) => {
      k.text(1842, 1196, '(d)');
      k.rtext(1651, 1627, 'TG/%', 'center');
      k.text(2405, 2232, [{ t: 'Temperature/' }, { t: 'o', s: 'sup' }, { t: 'C' }], 'center');
      k.text(2236, 1743, bicl('%'));
      k.text(2279, 1803, '30%', 'left', RED);
      k.text(2266, 1945, '42%', 'left', '#3b4f9a');
      k.text(2268, 2063, '41%', 'left', '#9b45b5');
      const rows = [1873, 1950, 2028];
      const cols = [RED, '#333333', '#555555'];
      const labs = ['10 h', '20 h', '30 h'];
      rows.forEach((y, i) => {
        k.line(1898, y, 1992, y, cols[i], 3.5);
        k.text(2016, y, labs[i]);
      });
      k.arrow(2127, 1862, 2261, 1804);
      k.arrow(2139, 1944, 2252, 1945);
      k.arrow(2130, 2024, 2257, 2052);
    },
  },
  {
    key: 'e', L: 197, T: 2321, R: 1377, B: 3266,
    xMin: 1000, xMax: 2000, xTicks: ramanTicks, xInner: ramanInner, yMin: 0, yMax: 100,
    datasets: () => [
      series(ramanGICs, RED, 3, false),
      series(ramanGraphiteSeries(), '#111111', 3, false),
    ],
    under: (k, chart, ctx) => {
      const xs = chart.scales.x, ys = chart.scales.y, a = chart.chartArea;
      const top = ys.getPixelForValue(bandTop);
      const band = (r: number[], c: string) => {
        const p1 = xs.getPixelForValue(r[0]), p2 = xs.getPixelForValue(r[1]);
        ctx.fillStyle = c;
        ctx.fillRect(p1, top, p2 - p1, a.bottom - top);
      };
      band(dBand, '#bfe4f8');
      band(gBand, '#bfe4f8');
      band(gBandGreen, '#c6eedd');
    },
    over: (k) => {
      k.text(228, 2361, '(e)');
      k.text(597, 2450, [{ t: 'D', i: true }], 'center');
      k.text(820, 2446, [{ t: 'G', i: true }], 'center');
      k.text(941, 2400, [{ t: '1614 cm' }, { t: '−1', s: 'sup' }], 'left');
      k.text(852, 2557, [{ t: '1580 cm' }, { t: '−1', s: 'sup' }], 'right');
      k.arrow(809, 2510, 908, 2414);
      k.text(1356, 2949, bicl('-GICs', RED), 'right', RED);
      k.text(1356, 3109, 'Graphite', 'right');
      k.rtext(125, 2792, 'Intensity/(a.u.)', 'center');
      k.text(788, 3387, [{ t: 'Raman shift/cm' }, { t: '−1', s: 'sup' }], 'center');
    },
  },
  {
    key: 'f', L: 1816, T: 2321, R: 2997, B: 3266,
    xMin: 400, xMax: 4000, reverse: true, xTicks: ftirTicks, xInner: ftirTicks, yMin: 0, yMax: 100,
    datasets: () => [
      series(ftirBiCl3, '#4a4a82', 3),
      series(ftirGraphite, '#3d3b45', 3),
      series(ftirGICs, RED, 3),
    ],
    over: (k) => {
      k.text(1842, 2361, '(f)');
      k.text(2941, 2645, '*', 'center', RED, 40);
      k.text(2934, 2692, '558', 'center', RED);
      const rows = [3013, 3095, 3183];
      const cols = ['#333333', '#333333', '#c8234a'];
      const labs: Rich[] = [
        [{ t: 'Graphite', c: '#3a3a4a' }],
        bicl('', '#3d3d9a'),
        bicl('-GICs', RED),
      ];
      rows.forEach((y, i) => {
        k.line(2516, y, 2616, y, cols[i], 3);
        k.text(2639, y, labs[i]);
      });
      k.rtext(1748, 2792, 'Transmittance/(a.u.)', 'center');
      k.text(2405, 3387, [{ t: 'Wavenumber/cm' }, { t: '−1', s: 'sup' }], 'center');
    },
  },
];

function PanelCanvas({ spec }: { spec: Spec }) {
  const ref = useRef<HTMLCanvasElement | null>(null);
  const left = spec.L - ML;
  const top = spec.T - MT;
  const w = spec.R - spec.L + ML + MR;
  const h = spec.B - spec.T + MT + MB;
  useEffect(() => {
    if (!ref.current) return;
    const chart = new Chart(ref.current, buildConfig(spec, left, top) as any);
    return () => chart.destroy();
  }, []);
  return (
    <canvas
      ref={ref}
      width={w}
      height={h}
      style={{ position: 'absolute', left, top, width: w, height: h, display: 'block' }}
    />
  );
}

export default function App() {
  return (
    <div
      style={{
        position: 'absolute',
        left: 0,
        top: 0,
        width: 3150,
        height: 3418,
        overflow: 'hidden',
        background: BG,
      }}
    >
      {SPECS.map((s) => (
        <PanelCanvas key={s.key} spec={s} />
      ))}
    </div>
  );
}
